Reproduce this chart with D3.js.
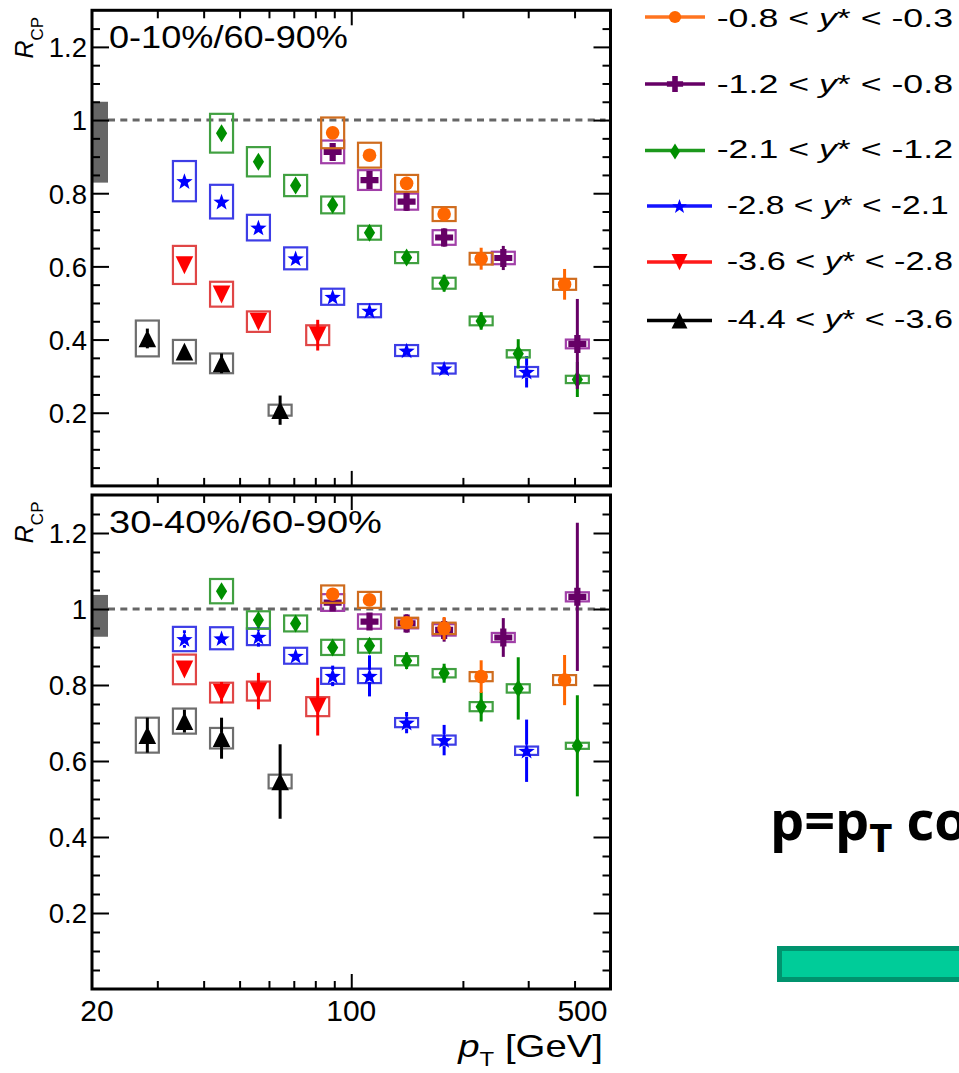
<!DOCTYPE html>
<html>
<head>
<meta charset="utf-8">
<script src="https://cdn.jsdelivr.net/npm/d3@7"></script>
<style>
  body { margin: 0; background: #fff; }
  svg { display: block; }
  text { font-family: "Liberation Sans", Arial, Helvetica, sans-serif; fill: #000; }
</style>
</head>
<body>
<svg id="chart" width="959" height="1073"></svg>
<script>
// ---- rapidity bins (legend order) ----
const yStarLow  = [-0.8, -1.2, -2.1, -2.8, -3.6, -4.4];
const yStarHigh = [-0.3, -0.8, -1.2, -2.1, -2.8, -3.6];

// ---- jet pT bin positions [GeV] for each rapidity bin ----
const ptBins = [
  [89.1, 112, 141, 178, 224, 376],
  [89.1, 112, 141, 178, 257, 407],
  [44.7, 56.2, 70.8, 89.1, 112, 141, 178, 224, 282, 407],
  [35.5, 44.7, 56.2, 70.8, 89.1, 112, 141, 178, 297],
  [35.5, 44.7, 56.2, 81.2],
  [28.2, 35.5, 44.7, 64.3]
];

// ---- R_CP, 0-10% / 60-90% ----
const rcp0010 = [
  [0.965, 0.904, 0.827, 0.743, 0.621, 0.551],
  [0.913, 0.836, 0.777, 0.679, 0.623, 0.388],
  [0.964, 0.886, 0.821, 0.768, 0.692, 0.624, 0.554, 0.451, 0.361, 0.291],
  [0.833, 0.777, 0.706, 0.622, 0.517, 0.479, 0.370, 0.321, 0.312],
  [0.604, 0.524, 0.449, 0.412],
  [0.403, 0.367, 0.335, 0.207]
];
const stat0010 = [
  [0.008, 0.008, 0.010, 0.012, 0.030, 0.042],
  [0.010, 0.010, 0.025, 0.025, 0.033, 0.123],
  [0.005, 0.005, 0.005, 0.006, 0.008, 0.010, 0.023, 0.024, 0.040, 0.048],
  [0.005, 0.005, 0.012, 0.005, 0.006, 0.007, 0.008, 0.010, 0.043],
  [0.005, 0.005, 0.015, 0.042],
  [0.027, 0.010, 0.027, 0.040]
];
const sys0010 = [
  [0.042, 0.034, 0.023, 0.019, 0.016, 0.015],
  [0.031, 0.027, 0.022, 0.020, 0.017, 0.012],
  [0.053, 0.040, 0.029, 0.023, 0.019, 0.015, 0.015, 0.012, 0.010, 0.010],
  [0.055, 0.046, 0.035, 0.030, 0.022, 0.018, 0.015, 0.014, 0.013],
  [0.052, 0.034, 0.028, 0.027],
  [0.049, 0.032, 0.027, 0.015]
];

// ---- R_CP, 30-40% / 60-90% ----
const rcp3040 = [
  [1.039, 1.024, 0.964, 0.949, 0.822, 0.813],
  [1.017, 0.967, 0.962, 0.945, 0.925, 1.032],
  [1.047, 0.971, 0.962, 0.899, 0.903, 0.864, 0.831, 0.743, 0.791, 0.640],
  [0.921, 0.923, 0.927, 0.877, 0.824, 0.824, 0.701, 0.655, 0.627],
  [0.841, 0.780, 0.784, 0.743],
  [0.668, 0.705, 0.660, 0.546]
];
const stat3040 = [
  [0.010, 0.010, 0.012, 0.030, 0.043, 0.066],
  [0.010, 0.015, 0.024, 0.031, 0.051, 0.195],
  [0.006, 0.006, 0.006, 0.007, 0.010, 0.022, 0.025, 0.039, 0.082, 0.133],
  [0.023, 0.010, 0.026, 0.010, 0.027, 0.054, 0.028, 0.040, 0.082],
  [0.010, 0.028, 0.048, 0.076],
  [0.046, 0.030, 0.054, 0.098]
];
const sys3040 = [
  [0.023, 0.021, 0.013, 0.015, 0.012, 0.013],
  [0.022, 0.019, 0.013, 0.015, 0.012, 0.012],
  [0.032, 0.023, 0.021, 0.020, 0.018, 0.012, 0.011, 0.012, 0.011, 0.008],
  [0.032, 0.029, 0.022, 0.021, 0.021, 0.019, 0.012, 0.012, 0.011],
  [0.039, 0.026, 0.025, 0.025],
  [0.046, 0.033, 0.027, 0.018]
];

// ---- normalisation uncertainty bands at unity ----
const normBand0010 = [0.829, 1.050];
const normBand3040 = [0.927, 1.037];

// ---- axis ticks ----
const yMajorTicks = [0.2, 0.4, 0.6, 0.8, 1.0, 1.2];
const yMinorTicks = d3.range(1, 26).map(i => +(i * 0.05).toFixed(2)).filter(v => !yMajorTicks.includes(v));
const xMinorTicks = [30, 40, 50, 60, 70, 80, 90, 200, 300, 400];
const xMajorTicks = [100];
const xTickLabels = [20, 100, 500];

// ---- styling ----
const markerColors = ["#ff6600", "#660066", "#008f00", "#0000ff", "#ff0000", "#000000"];
const boxColors    = ["#cf6c1e", "#a13fa8", "#41a041", "#3d3de6", "#e04646", "#6e6e6e"];
const lineColors   = ["#ff7420", "#660066", "#1c981c", "#1414ff", "#ff1a1a", "#000000"];
const markerTypes  = ["circle", "plus", "diamond", "star", "tridown", "triup"];

const svg = d3.select("#chart");

const x = d3.scaleLog().domain([20, 500]).range([92, 610.5]);
const yTop = d3.scaleLinear().domain([0, 1.3]).range([485.9, 10.3]);
const yBot = d3.scaleLinear().domain([0, 1.3]).range([989, 495]);

// marker shapes centred on (0,0)
function markerPath(type, s) {
  s = s || 1;
  const P = pts => "M" + pts.map(p => (p[0] * s).toFixed(2) + "," + (p[1] * s).toFixed(2)).join("L") + "Z";
  switch (type) {
    case "plus": {
      const a = 9, t = 3.1;
      return P([[-t,-a],[t,-a],[t,-t],[a,-t],[a,t],[t,t],[t,a],[-t,a],[-t,t],[-a,t],[-a,-t],[-t,-t]]);
    }
    case "diamond": return P([[0,-9],[5.6,0],[0,9],[-5.6,0]]);
    case "star": {
      const pts = [];
      for (let i = 0; i < 10; i++) {
        const r = i % 2 === 0 ? 8.6 : 3.5;
        const a = -Math.PI / 2 + i * Math.PI / 5;
        pts.push([r * Math.cos(a), r * Math.sin(a) + 0.8]);
      }
      return P(pts);
    }
    case "tridown": return P([[-8.8,-8.8],[8.8,-8.8],[0,9.2]]);
    case "triup": return P([[-8.8,8.8],[8.8,8.8],[0,-8.8]]);
  }
  return null;
}

function drawMarker(g, type, cx, cy, color, s) {
  if (type === "circle") {
    g.append("circle").attr("cx", cx).attr("cy", cy).attr("r", 6.8 * (s || 1)).attr("fill", color);
  } else {
    g.append("path").attr("d", markerPath(type, s))
      .attr("transform", `translate(${cx},${cy})`).attr("fill", color);
  }
}

// stretch a text element horizontally so its width becomes targetW, starting at x0
function fitText(t, x0, targetW) {
  const bb = t.node().getBBox();
  const sx = targetW / bb.width;
  t.attr("transform", `translate(${x0 - bb.x * sx},0) scale(${sx},1)`);
}

function styleAxis(g, fontSize) {
  g.select(".domain").remove();
  g.selectAll(".tick line").attr("stroke", "#000").attr("stroke-width", 2);
  g.selectAll(".tick text").attr("fill", "#000")
    .style("font-size", fontSize + "px")
    .style("font-family", '"Liberation Sans", Arial, sans-serif');
}

function drawPanel(y, rcp, stat, sys, band, label, labelW, showXLabels) {
  const g = svg.append("g");
  const x0 = x(20), x1 = x(500), yT = y(1.3), yB = y(0);

  // normalisation band
  g.append("rect").attr("x", x0).attr("y", y(band[1]))
    .attr("width", 16).attr("height", y(band[0]) - y(band[1])).attr("fill", "#666");

  // unity line
  g.append("line").attr("x1", x0 + 16).attr("x2", x1 - 5).attr("y1", y(1)).attr("y2", y(1))
    .attr("stroke", "#666").attr("stroke-width", 3).attr("stroke-dasharray", "7 5.3");

  // data, drawn from the most backward bin to the most forward bin
  for (let s = rcp.length - 1; s >= 0; s--) {
    const gs = g.append("g");
    const pts = ptBins[s].map((pt, i) => ({ pt, v: rcp[s][i], st: stat[s][i], sy: sys[s][i] }));
    // systematic boxes
    gs.selectAll("rect.sys").data(pts).join("rect")
      .attr("x", d => x(d.pt) - 11.5).attr("width", 23)
      .attr("y", d => y(d.v + d.sy)).attr("height", d => y(d.v - d.sy) - y(d.v + d.sy))
      .attr("fill", "none").attr("stroke", boxColors[s]).attr("stroke-width", 2.2);
    // statistical error bars, with a gap around the marker
    const gap = 6;
    pts.forEach(d => {
      const cx = x(d.pt), cy = y(d.v), up = y(d.v + d.st), dn = y(d.v - d.st);
      if (cy - up > gap) gs.append("line").attr("x1", cx).attr("x2", cx).attr("y1", up).attr("y2", cy - gap)
        .attr("stroke", markerColors[s]).attr("stroke-width", 3);
      if (dn - cy > gap) gs.append("line").attr("x1", cx).attr("x2", cx).attr("y1", cy + gap).attr("y2", dn)
        .attr("stroke", markerColors[s]).attr("stroke-width", 3);
    });
    pts.forEach(d => drawMarker(gs, markerTypes[s], x(d.pt), y(d.v), markerColors[s]));
  }

  // y axes (ticks on both sides, pointing inward)
  const ax = g.append("g").attr("transform", `translate(${x0},0)`);
  ax.call(d3.axisLeft(y).tickValues(yMajorTicks).tickSize(-17).tickPadding(5)
    .tickFormat(d => d === 1 ? "1" : d3.format(".1f")(d)));
  styleAxis(ax, 27.5);
  ax.selectAll(".tick text").attr("dy", "0.36em");
  const axm = g.append("g").attr("transform", `translate(${x0},0)`);
  axm.call(d3.axisLeft(y).tickValues(yMinorTicks).tickSize(-8).tickFormat(""));
  styleAxis(axm, 10);
  const axr = g.append("g").attr("transform", `translate(${x1},0)`);
  axr.call(d3.axisRight(y).tickValues(yMajorTicks).tickSize(-17).tickFormat(""));
  styleAxis(axr, 10);
  const axrm = g.append("g").attr("transform", `translate(${x1},0)`);
  axrm.call(d3.axisRight(y).tickValues(yMinorTicks).tickSize(-8).tickFormat(""));
  styleAxis(axrm, 10);

  // x axes
  [[yB, d3.axisBottom], [yT, d3.axisTop]].forEach(([yy, axisFn]) => {
    const a1 = g.append("g").attr("transform", `translate(0,${yy})`);
    a1.call(axisFn(x).tickValues(xMinorTicks).tickSize(-8).tickFormat(""));
    styleAxis(a1, 10);
    const a2 = g.append("g").attr("transform", `translate(0,${yy})`);
    a2.call(axisFn(x).tickValues(xMajorTicks).tickSize(-15).tickFormat(""));
    styleAxis(a2, 10);
  });

  // frame
  g.append("rect").attr("x", x0).attr("y", yT).attr("width", x1 - x0).attr("height", yB - yT)
    .attr("fill", "none").attr("stroke", "#000").attr("stroke-width", 3);

  // centrality label
  const lt = g.append("text").attr("x", 0).attr("y", yT + 38).style("font-size", "30.5px").text(label);
  fitText(lt, x0 + 17, labelW);

  // y-axis title
  const yt = g.append("text").attr("transform", `translate(33,${yT + 6.5}) rotate(-90)`)
    .attr("text-anchor", "end").style("font-size", "25px");
  yt.append("tspan").style("font-style", "italic").text("R");
  yt.append("tspan").attr("dy", 10).style("font-size", "17px").text("CP");

  if (showXLabels) {
    xTickLabels.forEach(v => {
      const anchor = v === 500 ? "end" : "middle";
      const dx = v === 20 ? 5 : (v === 500 ? -3 : 0);
      g.append("text").attr("x", x(v) + dx).attr("y", yB + 32).attr("text-anchor", anchor)
        .style("font-size", "30px").text(v);
    });
    const xt = g.append("text").attr("x", 0).attr("y", yB + 68).style("font-size", "32px");
    xt.append("tspan").style("font-style", "italic").text("p");
    xt.append("tspan").attr("dy", 9).style("font-size", "20px").text("T");
    xt.append("tspan").attr("dy", -9).text(" [GeV]");
    fitText(xt, 457, 146);
  }
}

drawPanel(yTop, rcp0010, stat0010, sys0010, normBand0010, "0-10%/60-90%", 239, false);
drawPanel(yBot, rcp3040, stat3040, sys3040, normBand3040, "30-40%/60-90%", 273, true);

// ---- legend ----
const legendRowY   = [17, 84, 150.5, 206, 262, 320.5];
const legendLineX  = [[645, 705], [645, 705], [645, 705], [647, 712], [647, 712], [647, 712]];
const legendTextX  = [716.7, 716.7, 716.7, 726.7, 726.7, 726.7];
const legendTextW  = [236.5, 236.5, 236.5, 222, 226.5, 226.5];
const legendBase   = [27.5, 93.5, 158.5, 214, 270.5, 328.5];
const lg = svg.append("g");
yStarLow.forEach((lo, i) => {
  const ry = legendRowY[i];
  const [lx0, lx1] = legendLineX[i];
  lg.append("line").attr("x1", lx0).attr("x2", lx1).attr("y1", ry).attr("y2", ry)
    .attr("stroke", lineColors[i]).attr("stroke-width", 3.3);
  drawMarker(lg, markerTypes[i], (lx0 + lx1) / 2, ry + (i === 2 ? 1 : 0), markerColors[i], 0.9);
  const t = lg.append("text").attr("x", 0).attr("y", legendBase[i]).style("font-size", "25.5px");
  t.append("tspan").text(lo.toFixed(1) + " < ");
  t.append("tspan").style("font-style", "italic").text("y");
  t.append("tspan").text("* < " + yStarHigh[i].toFixed(1));
  fitText(t, legendTextX[i], legendTextW[i]);
});

// ---- slide annotation in the lower right ----
const note = svg.append("text").attr("x", 770).attr("y", 840)
  .style("font-family", '"Open Sans", "Noto Sans", sans-serif').style("font-weight", 700)
  .style("font-size", "54px");
note.append("tspan").text("p=p");
note.append("tspan").attr("dy", 12).style("font-size", "40px").text("T");
note.append("tspan").attr("dy", -12).text(" co");

svg.append("rect").attr("x", 779.5).attr("y", 948.5).attr("width", 220).attr("height", 31)
  .attr("fill", "#00cc99").attr("stroke", "#00936e").attr("stroke-width", 5);
</script>
</body>
</html>
